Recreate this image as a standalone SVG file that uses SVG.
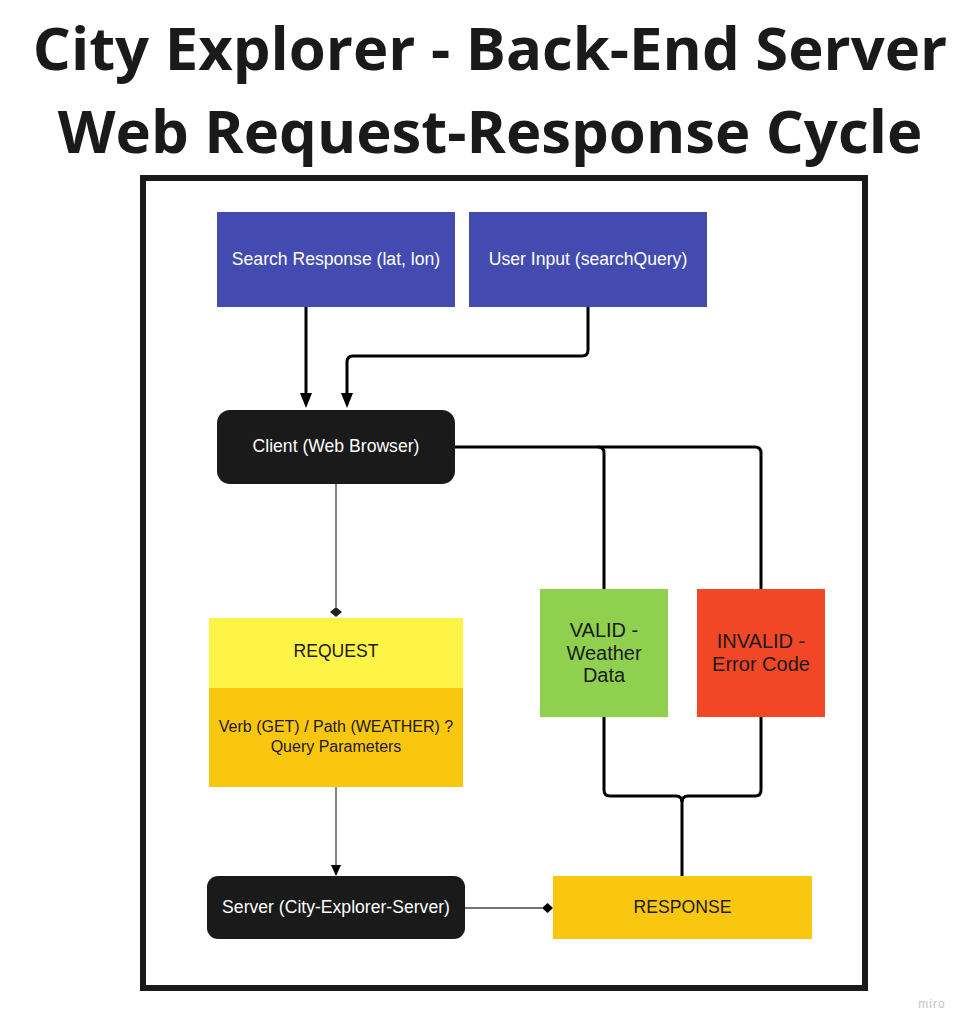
<svg xmlns="http://www.w3.org/2000/svg" width="969" height="1030" viewBox="0 0 969 1030">
<defs>
<style>
.title{font-family:"Open Sans","Liberation Sans",sans-serif;font-weight:bold;font-size:59.8px;fill:#1a1a1a;text-anchor:middle}
.lbl{font-family:"Liberation Sans",Arial,sans-serif;font-size:17.6px;text-anchor:middle}
.w{fill:#ffffff}
.d{fill:#1a1a1a}
.thick{fill:none;stroke:#000;stroke-width:3;stroke-linejoin:round}
.thin{fill:none;stroke:#444;stroke-width:1.3}
</style>
</defs>
<rect width="969" height="1030" fill="#ffffff"/>
<text class="title" x="490" y="70">City Explorer - Back-End Server</text>
<text class="title" x="490" y="153">Web Request-Response Cycle</text>
<rect x="143" y="178" width="722" height="810" fill="none" stroke="#1a1a1a" stroke-width="6"/>

<g id="connectors">
<line class="thick" x1="306" y1="307" x2="306" y2="394"/>
<path d="M300,393 L312,393 L306,408 Z" fill="#000"/>
<path class="thick" d="M588,307 V350 Q588,356 582,356 H353 Q347,356 347,362 V394"/>
<path d="M341,393 L353,393 L347,408 Z" fill="#000"/>
<path class="thick" d="M455,447 H598 Q604,447 604,453 V589"/>
<path class="thick" d="M598,447 H755 Q761,447 761,453 V589"/>
<path class="thick" d="M604,717 V790 Q604,796 610,796 H676 Q682,796 682,802"/>
<path class="thick" d="M761,717 V790 Q761,796 755,796 H688 Q682,796 682,802"/>
<line class="thick" x1="682" y1="800" x2="682" y2="876"/>
<line class="thin" x1="336" y1="484" x2="336" y2="607"/>
<path d="M336,607 L342,612 L336,617 L330,612 Z" fill="#222"/>
<line class="thin" x1="336" y1="787" x2="336" y2="866"/>
<path d="M331,865 L341,865 L336,876 Z" fill="#000"/>
<line class="thin" x1="465" y1="908" x2="542" y2="908"/>
<path d="M542,908 L547.5,903 L553,908 L547.5,913 Z" fill="#000"/>
</g>

<g id="search-response">
<rect x="217" y="212" width="238" height="95" fill="#434bb1"/>
<text class="lbl w" x="336" y="265">Search Response (lat, lon)</text>
</g>
<g id="user-input">
<rect x="469" y="212" width="238" height="95" fill="#434bb1"/>
<text class="lbl w" x="588" y="265">User Input (searchQuery)</text>
</g>
<g id="client">
<rect x="217" y="410" width="238" height="74" rx="13" fill="#1a1a1a"/>
<text class="lbl w" x="336" y="452">Client (Web Browser)</text>
</g>
<g id="request">
<rect x="209" y="618" width="254" height="70" fill="#fef445"/>
<rect x="209" y="688" width="254" height="99" fill="#fac710"/>
<text class="lbl d" x="336" y="657">REQUEST</text>
<text class="lbl d" x="336" y="732" style="font-size:16px">Verb (GET) / Path (WEATHER) ?</text>
<text class="lbl d" x="336" y="752" style="font-size:16px">Query Parameters</text>
</g>
<g id="valid">
<rect x="540" y="589" width="128" height="128" fill="#8fd14f"/>
<text class="lbl d" style="font-size:20px" x="604" y="637">VALID -</text>
<text class="lbl d" style="font-size:20px" x="604" y="659.5">Weather</text>
<text class="lbl d" style="font-size:20px" x="604" y="682">Data</text>
</g>
<g id="invalid">
<rect x="697" y="589" width="128" height="128" fill="#f24726"/>
<text class="lbl d" style="font-size:20px" x="761" y="648">INVALID -</text>
<text class="lbl d" style="font-size:20px" x="761" y="670.5">Error Code</text>
</g>
<g id="server">
<rect x="207" y="876" width="258" height="63" rx="11" fill="#1a1a1a"/>
<text class="lbl w" x="336" y="913">Server (City-Explorer-Server)</text>
</g>
<g id="response">
<rect x="553" y="876" width="259" height="63" fill="#fac710"/>
<text class="lbl d" x="682.5" y="913">RESPONSE</text>
</g>
<text x="932" y="1008" style="font-family:'Liberation Sans',Arial,sans-serif;font-size:12px;fill:#c4c4c4;text-anchor:middle;letter-spacing:1px">miro</text>
</svg>
